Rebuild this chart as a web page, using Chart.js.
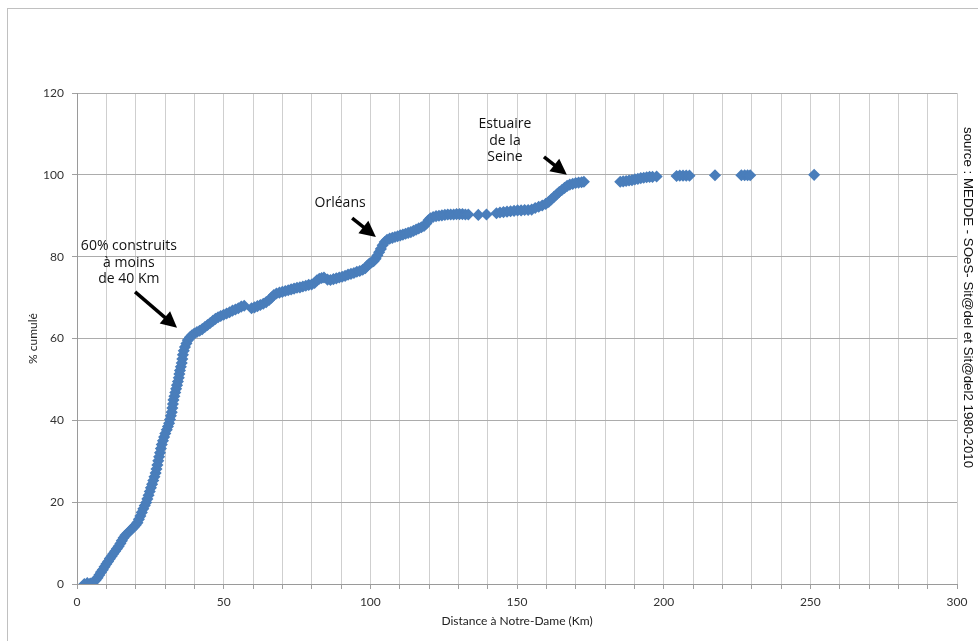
<!DOCTYPE html>
<html>
<head>
<meta charset="utf-8">
<script src="https://cdn.jsdelivr.net/npm/chart.js@4/dist/chart.umd.min.js"></script>
<style>
  body { margin:0; background:#fff; }
  #wrap { width:978px; height:641px; position:relative; }
</style>
</head>
<body>
<div id="wrap"><canvas id="chart" width="978" height="641"></canvas></div>
<script>
// =======================
// DATA
// =======================
const distKm = [
  2.5, 3.5, 4.5, 5.5, 6.3, 7.0, 7.6, 8.2, 8.8, 9.4,
  10.0, 10.6, 11.2, 11.8, 12.4, 13.0, 13.6, 14.2, 14.8, 15.3,
  15.9, 16.5, 17.2, 17.9, 18.6, 19.3, 20.0, 20.6, 21.1, 21.6,
  22.1, 22.6, 23.1, 23.6, 24.0, 24.4, 24.8, 25.2, 25.6, 26.0,
  26.4, 26.8, 27.1, 27.4, 27.7, 28.0, 28.3, 28.6, 28.9, 29.3,
  29.7, 30.1, 30.6, 31.0, 31.4, 31.7, 32.0, 32.3, 32.5, 32.7,
  32.9, 33.2, 33.5, 33.8, 34.1, 34.4, 34.7, 34.9, 35.1, 35.4,
  35.7, 35.9, 36.1, 36.4, 36.8, 37.3, 37.8, 38.5, 39.2, 40.0,
  40.9, 41.8, 42.7, 43.6, 44.5, 45.4, 46.3, 47.2, 48.1, 49.0,
  50.0, 51.0, 52.0, 53.0, 54.0, 55.0, 56.0, 57.0, 59.5, 60.5,
  61.5, 62.5, 63.5, 64.5, 65.5, 66.3, 67.1, 68.0, 69.0, 70.0,
  71.0, 72.0, 73.0, 74.0, 75.0, 76.0, 77.0, 78.0, 79.0, 80.0,
  81.0, 81.8, 82.6, 83.4, 84.2, 85.4, 86.4, 87.4, 88.4, 89.4,
  90.4, 91.4, 92.4, 93.4, 94.4, 95.4, 96.4, 97.4, 98.3, 99.0,
  99.7, 100.4, 101.1, 101.8, 102.4, 103.0, 103.6, 104.2, 104.9, 105.7,
  106.6, 107.5, 108.4, 109.3, 110.2, 111.1, 112.0, 112.9, 113.8, 114.7,
  115.6, 116.5, 117.4, 118.3, 119.1, 119.8, 120.5, 121.4, 122.4, 123.4,
  124.4, 125.4, 126.4, 127.4, 128.4, 129.4, 130.4, 131.4, 132.4, 133.4,
  136.8, 139.6, 143.0, 144.2, 145.4, 146.6, 147.8, 149.0, 150.2, 151.4,
  152.6, 153.8, 155.0, 156.2, 157.4, 158.6, 159.8, 160.8, 161.7, 162.6,
  163.5, 164.4, 165.3, 166.2, 167.1, 168.0, 169.0, 170.0, 171.0, 172.0,
  172.8, 185.2, 186.2, 187.2, 188.2, 189.2, 190.2, 191.2, 192.2, 193.2,
  194.2, 195.2, 196.2, 197.6, 204.4, 205.5, 206.6, 207.7, 208.8, 217.5,
  226.5, 227.6, 228.6, 229.5, 251.3
];
const pctCum = [
  0, 0.2, 0.1, 0.4, 0.9, 1.5, 2.2, 2.9, 3.5, 4.2,
  4.9, 5.5, 6.2, 6.8, 7.4, 8.0, 8.6, 9.2, 9.9, 10.6,
  11.3, 11.9, 12.4, 12.9, 13.4, 13.9, 14.4, 15.0, 15.8, 16.6,
  17.5, 18.4, 19.2, 19.9, 20.8, 21.7, 22.6, 23.5, 24.4, 25.3,
  26.2, 27.1, 28.1, 29.1, 30.1, 31.1, 32.1, 33.1, 34.1, 35.0,
  35.9, 36.8, 37.7, 38.5, 39.3, 40.2, 41.1, 42.0, 43.0, 44.0,
  45.0, 45.9, 46.8, 47.7, 48.6, 49.5, 50.4, 51.3, 52.2, 53.1,
  54.0, 55.0, 56.0, 57.0, 57.9, 58.8, 59.6, 60.3, 60.8, 61.2,
  61.6, 61.9, 62.3, 62.8, 63.3, 63.8, 64.3, 64.8, 65.2, 65.5,
  65.8, 66.1, 66.4, 66.8, 67.1, 67.4, 67.8, 68.0, 67.4, 67.6,
  67.9, 68.2, 68.5, 68.9, 69.4, 70.0, 70.6, 71.0, 71.2, 71.4,
  71.6, 71.8, 72.0, 72.2, 72.4, 72.5, 72.7, 72.9, 73.1, 73.2,
  73.6, 74.2, 74.6, 74.8, 74.9, 74.4, 74.3, 74.5, 74.7, 74.9,
  75.1, 75.3, 75.6, 75.8, 76.0, 76.3, 76.5, 76.8, 77.2, 77.8,
  78.3, 78.6, 78.9, 79.5, 80.3, 81.1, 81.9, 82.8, 83.6, 84.1,
  84.4, 84.6, 84.8, 85.0, 85.2, 85.4, 85.6, 85.8, 86.0, 86.3,
  86.6, 86.9, 87.2, 87.5, 88.1, 88.9, 89.4, 89.7, 89.9, 90.0,
  90.1, 90.2, 90.3, 90.3, 90.3, 90.4, 90.4, 90.4, 90.3, 90.3,
  90.2, 90.3, 90.6, 90.8, 90.9, 91.0, 91.1, 91.2, 91.3, 91.3,
  91.4, 91.4, 91.5, 91.9, 92.2, 92.5, 92.9, 93.4, 94.0, 94.6,
  95.2, 95.8, 96.3, 96.8, 97.3, 97.6, 97.8, 98.0, 98.1, 98.2,
  98.3, 98.3, 98.4, 98.5, 98.6, 98.7, 98.9, 99.0, 99.2, 99.3,
  99.4, 99.5, 99.5, 99.6, 99.7, 99.8, 99.8, 99.8, 99.8, 99.9,
  99.9, 99.9, 99.9, 99.9, 100.0
];

// annotation texts (anchored in data units)
const noteTexts = [['60% construits', 'à moins', 'de 40 Km'], ['Orléans'], ['Estuaire', 'de la', 'Seine']];
const noteAt = [[17.7, 82.6], [89.7, 93.1], [145.9, 112.4]];
const arrowFrom = [[19.8, 71.4], [93.8, 89.4], [159.2, 104.4]];
const arrowTo = [[34.1, 62.6], [101.9, 84.8], [167.0, 100.0]];
const sourceText = 'source : MEDDE - SOeS- Sit@del et Sit@del2 1980-2010';

// =======================
// EXTRAS: frame, notes, arrows, source
// =======================
const extras = {
  id: 'extras',
  beforeDraw(chart) {
    const ctx = chart.ctx;
    ctx.save();
    ctx.strokeStyle = '#c0c0c0';
    ctx.lineWidth = 1;
    ctx.strokeRect(7.5, 8.5, 1200, 900);
    ctx.restore();
  },
  afterDraw(chart) {
    const ctx = chart.ctx;
    const xs = chart.scales.x, ys = chart.scales.y;
    ctx.save();
    ctx.fillStyle = '#111';
    ctx.font = '14px "Open Sans"';
    ctx.textAlign = 'center';
    ctx.textBaseline = 'middle';
    noteTexts.forEach((lines, i) => {
      const px = xs.getPixelForValue(noteAt[i][0]);
      const py = ys.getPixelForValue(noteAt[i][1]);
      lines.forEach((t, j) => ctx.fillText(t, px, py + j * 16.5));
    });

    // arrows
    ctx.strokeStyle = '#000';
    ctx.fillStyle = '#000';
    ctx.lineWidth = 3.5;
    arrowFrom.forEach((f, i) => {
      const x0 = xs.getPixelForValue(f[0]), y0 = ys.getPixelForValue(f[1]);
      const x1 = xs.getPixelForValue(arrowTo[i][0]), y1 = ys.getPixelForValue(arrowTo[i][1]);
      const len = Math.hypot(x1 - x0, y1 - y0);
      const ux = (x1 - x0) / len, uy = (y1 - y0) / len;
      const hl = 16, hw = 8;
      const bx = x1 - ux * hl, by = y1 - uy * hl;
      ctx.beginPath();
      ctx.moveTo(x0, y0);
      ctx.lineTo(bx + ux, by + uy);
      ctx.stroke();
      ctx.beginPath();
      ctx.moveTo(x1, y1);
      ctx.lineTo(bx - uy * hw, by + ux * hw);
      ctx.lineTo(bx + uy * hw, by - ux * hw);
      ctx.closePath();
      ctx.fill();
    });

    // source, rotated
    ctx.fillStyle = '#111';
    ctx.font = '13.3px "Liberation Sans"';
    ctx.textAlign = 'left';
    ctx.textBaseline = 'middle';
    ctx.translate(chart.chartArea.right + 11, 127);
    ctx.rotate(Math.PI / 2);
    ctx.fillText(sourceText, 0, 0);
    ctx.restore();
  }
};

// =======================
// CHART
// =======================
const points = distKm.map((d, i) => ({ x: d, y: pctCum[i] }));

new Chart(document.getElementById('chart'), {
  type: 'scatter',
  data: {
    datasets: [{
      data: points,
      pointStyle: 'rectRot',
      pointRadius: 5,
      pointBorderWidth: 1.5,
      backgroundColor: '#4a7ebb',
      borderColor: '#4a7ebb'
    }]
  },
  options: {
    responsive: false,
    animation: false,
    layout: { padding: { top: 93, right: 21, left: 0, bottom: 0 } },
    plugins: { legend: { display: false }, tooltip: { enabled: false } },
    scales: {
      x: {
        type: 'linear', min: 0, max: 300,
        afterFit(s) { s.height = 57; },
        grid: { color: '#cfcfcf', tickLength: 5, tickColor: '#a0a0a0' },
        border: { color: '#9a9a9a' },
        ticks: {
          stepSize: 10, autoSkip: false, maxRotation: 0, padding: 6,
          color: '#333', font: { family: 'Lato', size: 12 },
          callback: v => (v % 50 === 0 ? v : '')
        },
        title: {
          display: true, text: 'Distance à Notre-Dame (Km)',
          color: '#222', font: { family: 'Lato', size: 12 },
          padding: { top: 0, bottom: 13 }
        }
      },
      y: {
        min: 0, max: 120,
        afterFit(s) { s.width = 77; },
        grid: { color: '#acacac', tickLength: 5, tickColor: '#a0a0a0' },
        border: { color: '#9a9a9a' },
        ticks: {
          stepSize: 20, padding: 8,
          color: '#333', font: { family: 'Lato', size: 12 }
        },
        title: {
          display: true, text: '% cumulé',
          color: '#222', font: { family: 'Lato', size: 12 },
          padding: { top: 26, bottom: 0 }
        }
      }
    }
  },
  plugins: [extras]
});
</script>
</body>
</html>
